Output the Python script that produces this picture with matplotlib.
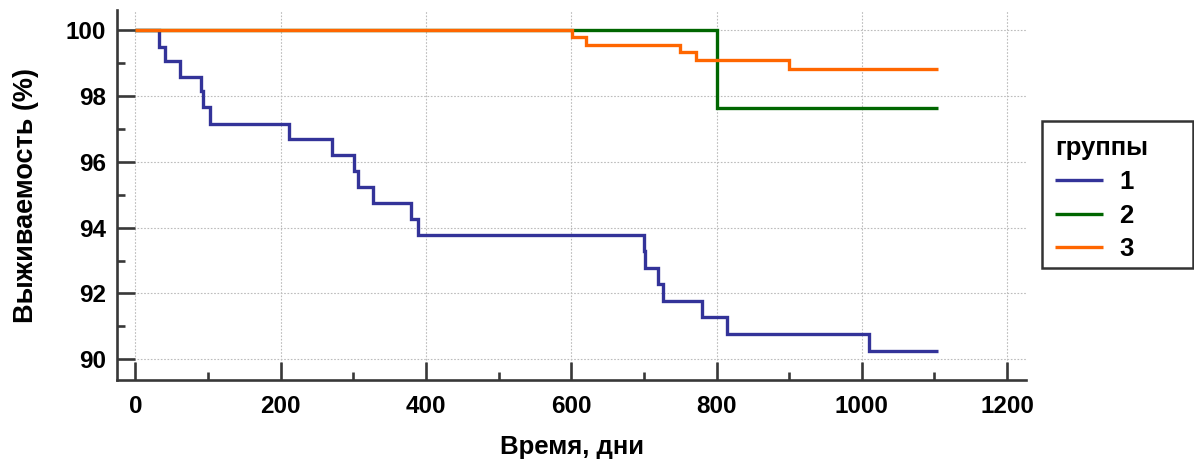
import matplotlib
matplotlib.use("Agg")
import matplotlib.pyplot as plt
from matplotlib.ticker import MultipleLocator
from matplotlib.patches import Rectangle

# ---- data ----
times_g1 = [0, 32, 40, 61, 90, 93, 102, 211, 271, 301, 306, 327, 380, 389,
            700, 702, 720, 726, 780, 815, 1010, 1105]
surv_g1 = [100, 99.49, 99.06, 98.58, 98.16, 97.65, 97.16, 96.68, 96.22, 95.72,
           95.24, 94.74, 94.26, 93.77, 93.29, 92.78, 92.29, 91.78, 91.27, 90.76,
           90.25, 90.25]

times_g2 = [0, 800, 1105]
surv_g2 = [100, 97.62, 97.62]

times_g3 = [0, 601, 620, 749, 772, 900, 1105]
surv_g3 = [100, 99.78, 99.55, 99.32, 99.08, 98.83, 98.83]

group_labels = ["1", "2", "3"]
group_colors = ["#333399", "#006600", "#ff6600"]
x_ticks = [0, 200, 400, 600, 800, 1000, 1200]
y_ticks = [90, 92, 94, 96, 98, 100]

plt.rcParams['font.family'] = ['Liberation Sans', 'DejaVu Sans']
plt.rcParams['font.weight'] = 'bold'

W, H = 1194, 461
fig = plt.figure(figsize=(W / 100, H / 100), dpi=100)
ax = fig.add_axes([117.3 / W, 1 - 380 / H, (1026 - 117.3) / W, (380 - 10) / H])

series = [(times_g1, surv_g1), (times_g2, surv_g2), (times_g3, surv_g3)]
for (t, s), lab, col in zip(series, group_labels, group_colors):
    ax.step(t, s, where='post', color=col, lw=2.4, label=lab,
            solid_joinstyle='miter', solid_capstyle='butt', zorder=3)

ax.set_xlim(-25, 1226)
ax.set_ylim(89.37, 100.61)
ax.set_xticks(x_ticks)
ax.set_yticks(y_ticks)
ax.xaxis.set_minor_locator(MultipleLocator(100))
ax.yaxis.set_minor_locator(MultipleLocator(1))

spine_col = '#383838'
for side in ['top', 'right']:
    ax.spines[side].set_visible(False)
for side in ['left', 'bottom']:
    ax.spines[side].set_color(spine_col)
    ax.spines[side].set_linewidth(1.9)

ax.tick_params(axis='both', which='major', direction='in', length=12.8,
               width=1.9, color=spine_col, labelsize=17.5, pad=11)
ax.tick_params(axis='both', which='minor', direction='in', length=6,
               width=1.9, color=spine_col)
ax.tick_params(axis='y', which='major', pad=8)
for lbl in ax.get_xticklabels() + ax.get_yticklabels():
    lbl.set_fontweight('bold')

ax.grid(True, which='major', color='#bcbcbc', linestyle=(0, (1.5, 1.5)),
        linewidth=0.8, zorder=0)

ax.set_xlabel('Время, дни', fontsize=18.5, fontweight='bold', labelpad=12)
ax.set_ylabel('Выживаемость (%)', fontsize=19.5, fontweight='bold', labelpad=19)

leg = ax.legend(title='группы', loc='upper left',
                bbox_to_anchor=(1055 / W, 1 - 136 / H),
                bbox_transform=fig.transFigure,
                borderaxespad=0, borderpad=0, frameon=False,
                prop={'size': 18.5, 'weight': 'bold'},
                title_fontproperties={'size': 18.5, 'weight': 'bold'},
                handlelength=1.85, handletextpad=0.65, labelspacing=0.38)
leg._legend_box.align = 'left'
for line in leg.get_lines():
    line.set_linewidth(2.4)

frame_box = Rectangle((1042 / W, 1 - 268 / H), (1193 - 1042) / W,
                      (268 - 121) / H, transform=fig.transFigure,
                      facecolor='none', edgecolor='#333333',
                      linewidth=1.8, zorder=0.5, clip_on=False)
ax.add_artist(frame_box)

fig.savefig('out.png', dpi=100)
